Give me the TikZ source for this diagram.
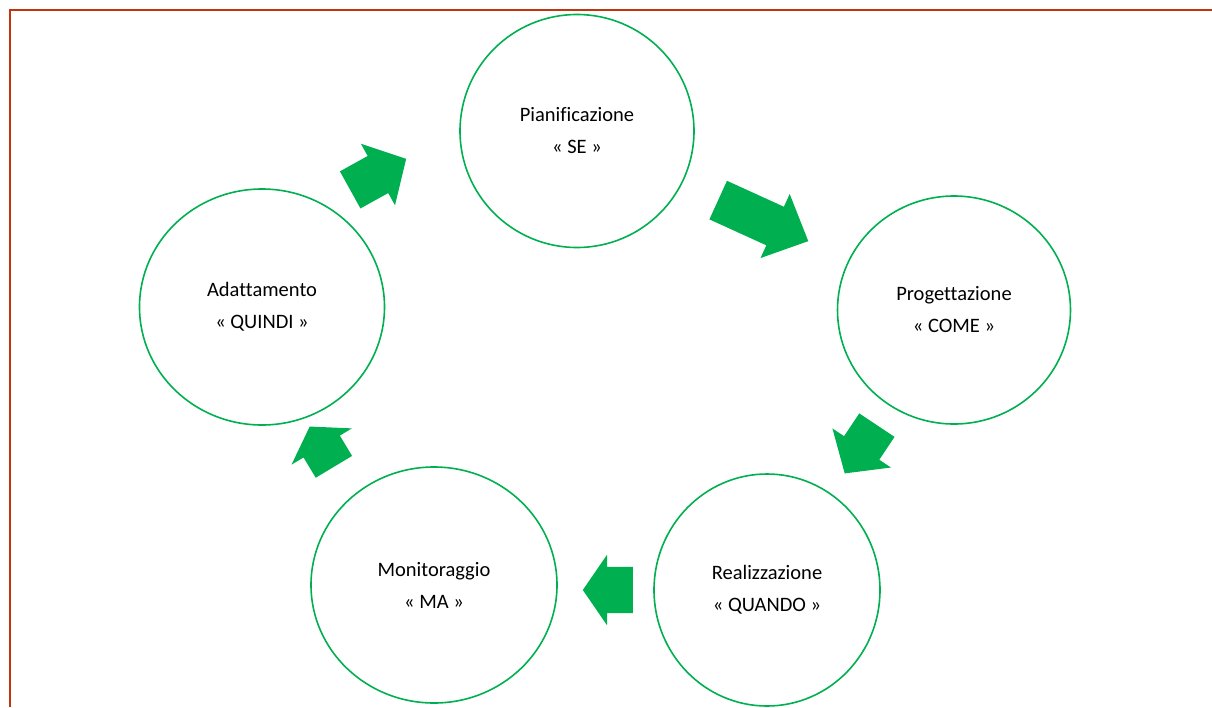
\documentclass[tikz,border=0pt]{standalone}
\usepackage{fontspec}
\setmainfont{Carlito}[Ligatures=CommonOff]
\usetikzlibrary{shapes.geometric,shapes.arrows}
\definecolor{phasegreen}{HTML}{00B050}
\definecolor{framered}{HTML}{C0360C}

\begin{document}
\begin{tikzpicture}[x=1pt,y=-1pt,
  phase node/.style={ellipse,draw=phasegreen,line width=1.6pt,fill=white,
    align=center,font=\fontsize{20.5}{32}\selectfont,inner sep=0pt},
  flow arrow/.style={single arrow,fill=phasegreen,draw=none,inner xsep=0pt,
    inner ysep=21pt,minimum width=70pt,single arrow head extend=14pt,anchor=tail}]

  \useasboundingbox (0,0) rectangle (1212,707);
  \draw[framered,line width=2.5pt] (10,707) -- (10,10) -- (1212,10);

  \node[phase node,minimum width=234pt,minimum height=233pt] (pian) at (577,131) {Pianificazione\\« SE »};
  \node[phase node,minimum width=233pt,minimum height=228pt] (prog) at (954,310) {Progettazione\\« COME »};
  \node[phase node,minimum width=226pt,minimum height=232pt] (real) at (767,590) {Realizzazione\\« QUANDO »};
  \node[phase node,minimum width=246pt,minimum height=236pt] (moni) at (434,585) {Monitoraggio\\« MA »};
  \node[phase node,minimum width=245pt,minimum height=236pt] (adat) at (262,307) {Adattamento\\« QUINDI »};

  % block arrows between the phases, placed by their tail
  \node[flow arrow,rotate=29,minimum height=64pt,single arrow tip angle=95] (adat-pian) at (350,190) {};
  \node[flow arrow,rotate=-24.5,minimum height=99pt,single arrow tip angle=88] (pian-prog) at (718,200) {};
  \node[flow arrow,rotate=-123.7,minimum height=58pt,single arrow tip angle=98] (prog-real) at (877,425) {};
  \node[flow arrow,rotate=180,minimum height=50pt,single arrow tip angle=111,
    inner ysep=23pt,single arrow head extend=12pt] (real-moni) at (633,590) {};
  \node[flow arrow,rotate=121,minimum height=47pt,single arrow tip angle=113] (moni-adat) at (334,467) {};

\end{tikzpicture}
\end{document}
